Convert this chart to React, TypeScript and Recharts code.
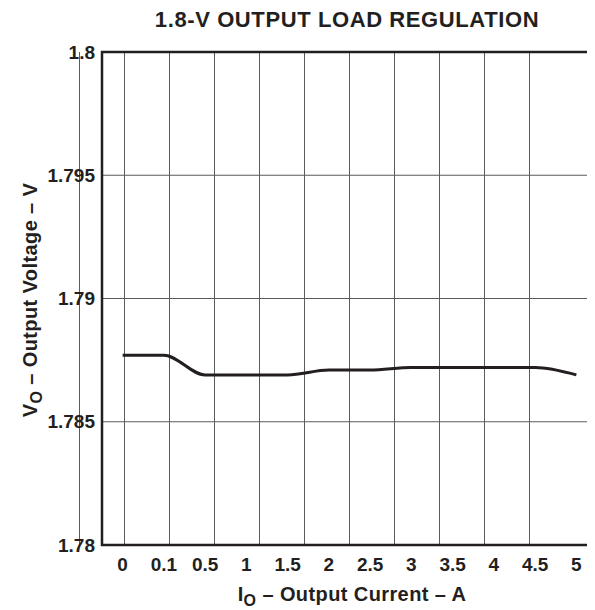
import React from 'react'
import {
  CartesianGrid,
  Line,
  LineChart,
  ReferenceArea,
  XAxis,
  YAxis,
} from 'recharts'

const currents = ['0', '0.1', '0.5', '1', '1.5', '2', '2.5', '3', '3.5', '4', '4.5', '5']
const voltages = [
  1.7877, 1.7877, 1.7869, 1.7869, 1.7869, 1.7871, 1.7871, 1.7872, 1.7872, 1.7872, 1.7872,
  1.7869,
]
const yTicks = [1.78, 1.785, 1.79, 1.795, 1.8]
const yTickLabels = ['1.78', '1.785', '1.79', '1.795', '1.8']

const data = currents.map((c, i) => ({ idx: i, current: c, v: voltages[i] }))
const catTicks = currents.map((_, i) => i)
// column boundaries for the vertical grid
const gridTicks = [...currents.map((_, i) => i - 0.5), currents.length - 0.5]
const xDomain = [-0.5, currents.length - 0.5]

const font = '"Liberation Sans", Arial, sans-serif'
const ink = '#231f20'
const tickStyle = { fontSize: 19, fontWeight: 700, fill: ink, fontFamily: font }

export default function App() {
  return (
    <div style={{ position: 'relative', width: 587, height: 602, overflow: 'hidden' }}>
      <LineChart
        width={600}
        height={602}
        data={data}
        margin={{ top: 44, right: 11, bottom: 0, left: 0 }}
      >
        <XAxis xAxisId="grid" type="number" domain={xDomain} ticks={gridTicks} hide />
        <XAxis
          xAxisId="cat"
          type="number"
          dataKey="idx"
          domain={xDomain}
          ticks={catTicks}
          tickFormatter={(i: number) => currents[i]}
          axisLine={false}
          tickLine={false}
          tickSize={0}
          tickMargin={13}
          height={65}
          tick={tickStyle}
        />
        <YAxis
          type="number"
          domain={[1.78, 1.8]}
          ticks={yTicks}
          tickFormatter={(_v: number, i: number) => yTickLabels[i]}
          allowDataOverflow
          axisLine={false}
          tickLine={false}
          tickSize={0}
          tickMargin={7}
          width={94}
          tick={tickStyle}
        />
        <CartesianGrid xAxisId="grid" stroke="#5a5b5d" strokeWidth={1} />
        <Line
          xAxisId="cat"
          dataKey="v"
          type="monotone"
          stroke={ink}
          strokeWidth={3}
          dot={false}
          isAnimationActive={false}
        />
        <ReferenceArea
          xAxisId="cat"
          x1={xDomain[0]}
          x2={xDomain[1]}
          y1={1.78}
          y2={1.8}
          fill="none"
          fillOpacity={0}
          stroke={ink}
          strokeWidth={2.5}
        />
      </LineChart>
      <svg
        width={587}
        height={602}
        style={{ position: 'absolute', left: 0, top: 0, pointerEvents: 'none' }}
        fontFamily={font}
        fontWeight={700}
        fill={ink}
      >
        <text x={339} y={19} textAnchor="middle" fontSize={22} letterSpacing={0.6}>
          1.8-V OUTPUT LOAD REGULATION
        </text>
        <text x={344} y={593} textAnchor="middle" fontSize={20} letterSpacing={0.4}>
          <tspan>I</tspan>
          <tspan fontSize={16} dy={5}>O</tspan>
          <tspan dy={-5}> – Output Current – A</tspan>
        </text>
        <text
          transform="translate(29,292) rotate(-90)"
          textAnchor="middle"
          fontSize={20}
          letterSpacing={0.4}
        >
          <tspan>V</tspan>
          <tspan fontSize={16} dy={5}>O</tspan>
          <tspan dy={-5}> – Output Voltage – V</tspan>
        </text>
      </svg>
    </div>
  )
}
